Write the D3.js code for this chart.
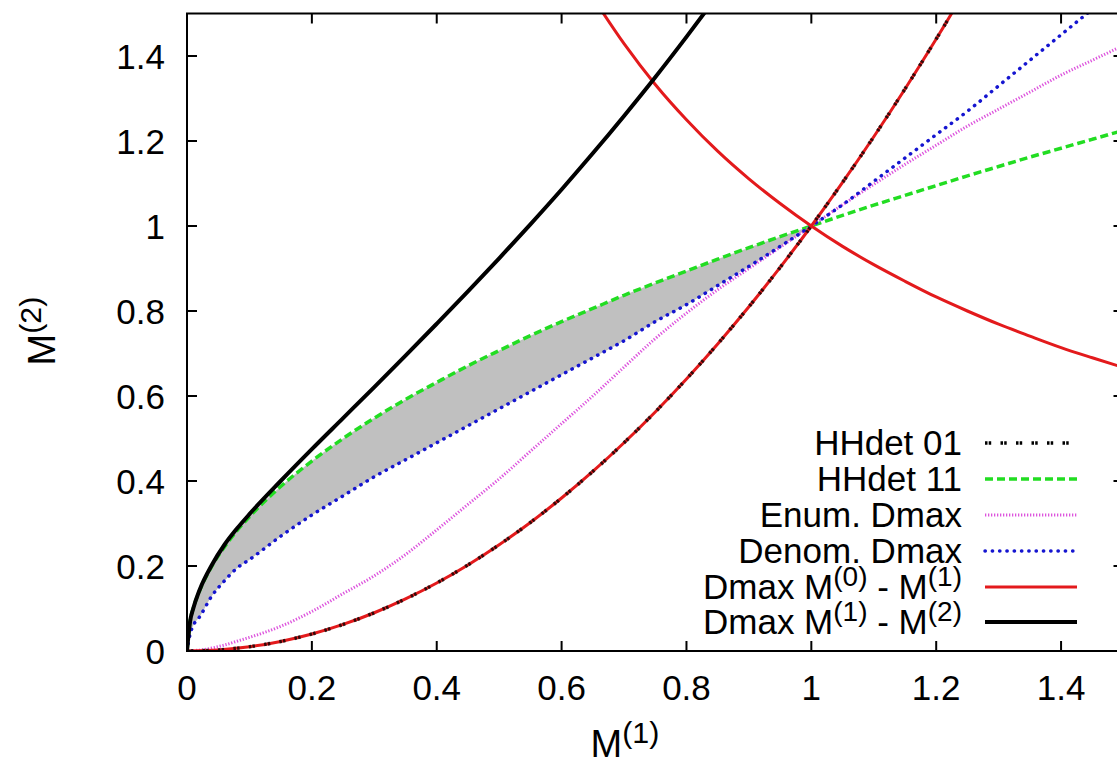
<!DOCTYPE html>
<html><head><meta charset="utf-8">
<script src="https://cdn.jsdelivr.net/npm/d3@7"></script>
<style>
html,body{margin:0;padding:0;background:#fff;}
svg{display:block;font-family:"Liberation Sans",Arial,sans-serif;}
</style></head>
<body>
<svg id="chart" width="1117" height="758"></svg>
<script>
// ---- data ----
const xGrid = [0,0.005,0.01,0.02,0.04,0.06,0.08,0.1,0.15,0.2,0.25,0.3,0.35,0.4,0.45,0.5,0.55,0.6,0.65,0.7,0.75,0.8,0.85,0.9,0.95,1.0,1.05,1.1,1.15,1.2,1.25,1.3,1.35,1.4,1.45,1.5];
const hhdet11 = [0,0.071,0.1,0.141,0.2,0.245,0.283,0.316,0.387,0.447,0.5,0.548,0.592,0.632,0.671,0.707,0.742,0.775,0.806,0.837,0.866,0.894,0.922,0.949,0.975,1,1.025,1.049,1.072,1.095,1.118,1.14,1.162,1.183,1.204,1.225];
const denomDmax = [0,0.04,0.06,0.08,0.13,0.165,0.195,0.215,0.27,0.32,0.365,0.41,0.45,0.49,0.53,0.57,0.61,0.65,0.69,0.73,0.775,0.815,0.86,0.905,0.952,1,1.05,1.105,1.16,1.215,1.27,1.33,1.39,1.45,1.51,1.57];
const enumDmax = [0,0,0.001,0.002,0.007,0.014,0.023,0.032,0.058,0.093,0.135,0.177,0.227,0.285,0.345,0.405,0.47,0.535,0.6,0.668,0.735,0.795,0.85,0.9,0.95,1,1.05,1.098,1.145,1.19,1.235,1.275,1.315,1.355,1.39,1.425];
const dmax12X = [0,0.005,0.01,0.02,0.04,0.06,0.08,0.1,0.15,0.2,0.25,0.3,0.35,0.4,0.45,0.5,0.55,0.6,0.65,0.7,0.75,0.8,0.85];
const dmax12Y = [0,0.07,0.1,0.143,0.203,0.25,0.288,0.322,0.4,0.475,0.548,0.621,0.695,0.77,0.846,0.924,1.004,1.086,1.171,1.259,1.35,1.445,1.543];
const riseX = [0,0.05,0.1,0.15,0.2,0.25,0.3,0.35,0.4,0.45,0.5,0.55,0.6,0.65,0.7,0.75,0.8,0.85,0.9,0.95,1.0,1.05,1.1,1.15,1.2,1.25];
const riseY = [0,0.0025,0.01,0.0225,0.04,0.0625,0.09,0.1225,0.16,0.2025,0.25,0.3025,0.36,0.4225,0.49,0.5625,0.64,0.7225,0.81,0.9025,1,1.1025,1.21,1.3225,1.44,1.5625];
const fallX = [0.65,0.7,0.75,0.8,0.85,0.9,0.95,1.0,1.05,1.1,1.15,1.2,1.25,1.3,1.35,1.4,1.45,1.5];
const fallY = [1.538,1.429,1.333,1.25,1.176,1.111,1.053,1,0.952,0.909,0.87,0.833,0.8,0.769,0.741,0.714,0.69,0.667];
const xTicks = [0,0.2,0.4,0.6,0.8,1,1.2,1.4];
const yTicks = [0,0.2,0.4,0.6,0.8,1,1.2,1.4];
const xTickLabels = ["0","0.2","0.4","0.6","0.8","1","1.2","1.4"];
const yTickLabels = ["0","0.2","0.4","0.6","0.8","1","1.2","1.4"];
const legendNames = [
  [["HHdet 01"]],
  [["HHdet 11"]],
  [["Enum. Dmax"]],
  [["Denom. Dmax"]],
  [["Dmax M"],["(0)","sup"],[" - M"],["(1)","sup"]],
  [["Dmax M"],["(1)","sup"],[" - M"],["(2)","sup"]]
];

// ---- layout / styles ----
const L = 187, T = 13.5, R = 1123.5, B = 651;
const FS = 35;
const styles = [
  {stroke:"#000000", width:3.6, dash:"2.5,1.2,2.5,9.3", cap:"butt"},
  {stroke:"#22dd22", width:3.5, dash:"8,4", cap:"butt"},
  {stroke:"#dd55dd", width:3, dash:"1.3,1.7", cap:"butt"},
  {stroke:"#1515d0", width:3.5, dash:"0.3,7", cap:"round"},
  {stroke:"#e31a1c", width:3, dash:null, cap:"butt"},
  {stroke:"#000000", width:4, dash:null, cap:"butt"}
];

const svg = d3.select("#chart");
const x = d3.scaleLinear().domain([0,1.5]).range([L,R]);
const y = d3.scaleLinear().domain([0,1.5]).range([B,T]);

svg.append("defs").append("clipPath").attr("id","clip")
  .append("rect").attr("x",L).attr("y",T).attr("width",R-L).attr("height",B-T);

const g = svg.append("g").attr("clip-path","url(#clip)");

const zipXY = (xs, ys) => xs.map((v,i)=>[v,ys[i]]);
const line = d3.line().x(d=>x(d[0])).y(d=>y(d[1])).curve(d3.curveMonotoneX);

// gray fill between HHdet 11 and Denom. Dmax for x<=1
const fillData = xGrid.map((v,i)=>({x:v,lo:denomDmax[i],hi:hhdet11[i]})).filter(d=>d.x<=1);
g.append("path").datum(fillData)
  .attr("d", d3.area().x(d=>x(d.x)).y0(d=>y(d.lo)).y1(d=>y(d.hi)).curve(d3.curveMonotoneX))
  .attr("fill","#c0c0c0");

function drawLine(data, st){
  const p = g.append("path").datum(data).attr("d",line).attr("fill","none")
    .attr("stroke",st.stroke).attr("stroke-width",st.width).attr("stroke-linecap",st.cap);
  if(st.dash) p.attr("stroke-dasharray",st.dash);
  return p;
}

drawLine(zipXY(xGrid,hhdet11), styles[1]);
drawLine(zipXY(xGrid,enumDmax), styles[2]);
drawLine(zipXY(xGrid,denomDmax), styles[3]);
drawLine(zipXY(riseX,riseY), styles[4]);
drawLine(zipXY(fallX,fallY), styles[4]);
drawLine(zipXY(riseX,riseY), styles[0]).attr("opacity",0.75);
drawLine(zipXY(dmax12X,dmax12Y), styles[5]);

// ---- border & ticks ----
const ax = svg.append("g").attr("stroke","#000").attr("stroke-width",2).attr("fill","none");
ax.append("rect").attr("x",L).attr("y",T).attr("width",R-L).attr("height",B-T);
xTicks.forEach(v=>{
  ax.append("line").attr("x1",x(v)).attr("x2",x(v)).attr("y1",B).attr("y2",B-10);
  ax.append("line").attr("x1",x(v)).attr("x2",x(v)).attr("y1",T).attr("y2",T+10);
});
yTicks.forEach(v=>{
  ax.append("line").attr("x1",L).attr("x2",L+10).attr("y1",y(v)).attr("y2",y(v));
  ax.append("line").attr("x1",R).attr("x2",R-10).attr("y1",y(v)).attr("y2",y(v));
});

// tick labels
svg.append("g").selectAll("text").data(xTicks).join("text")
  .attr("x",d=>x(d)).attr("y",700).attr("text-anchor","middle")
  .attr("font-size",FS).text((d,i)=>xTickLabels[i]);
svg.append("g").selectAll("text").data(yTicks).join("text")
  .attr("x",165).attr("y",d=>y(d)+12.5).attr("text-anchor","end")
  .attr("font-size",FS).text((d,i)=>yTickLabels[i]);

// axis titles
const TS = 38;
const xt = svg.append("text").attr("x",625).attr("y",757).attr("text-anchor","middle").attr("font-size",TS);
xt.append("tspan").text("M");
xt.append("tspan").attr("dy",-14).attr("font-size",TS*0.8).text("(1)");
const yt = svg.append("text").attr("transform","translate(55,331) rotate(-90)").attr("text-anchor","middle").attr("font-size",TS);
yt.append("tspan").text("M");
yt.append("tspan").attr("dy",-14).attr("font-size",TS*0.8).text("(2)");

// legend
const legY = [443,479,515,551,587,622];
legendNames.forEach((parts,i)=>{
  const t = svg.append("text").attr("x",962).attr("y",legY[i]+12).attr("text-anchor","end").attr("font-size",FS);
  let raised = false;
  parts.forEach(p=>{
    const ts = t.append("tspan").text(p[0]);
    if(p[1]==="sup"){ ts.attr("font-size",FS*0.8).attr("dy",-13); raised = true; }
    else if(raised){ ts.attr("dy",13); raised=false; }
  });
  const st = styles[i];
  const ln = svg.append("line").attr("x1",985).attr("x2",1077).attr("y1",legY[i]).attr("y2",legY[i])
    .attr("stroke",st.stroke).attr("stroke-width",st.width).attr("stroke-linecap",st.cap);
  if(st.dash) ln.attr("stroke-dasharray",st.dash);
});
</script>
</body></html>
